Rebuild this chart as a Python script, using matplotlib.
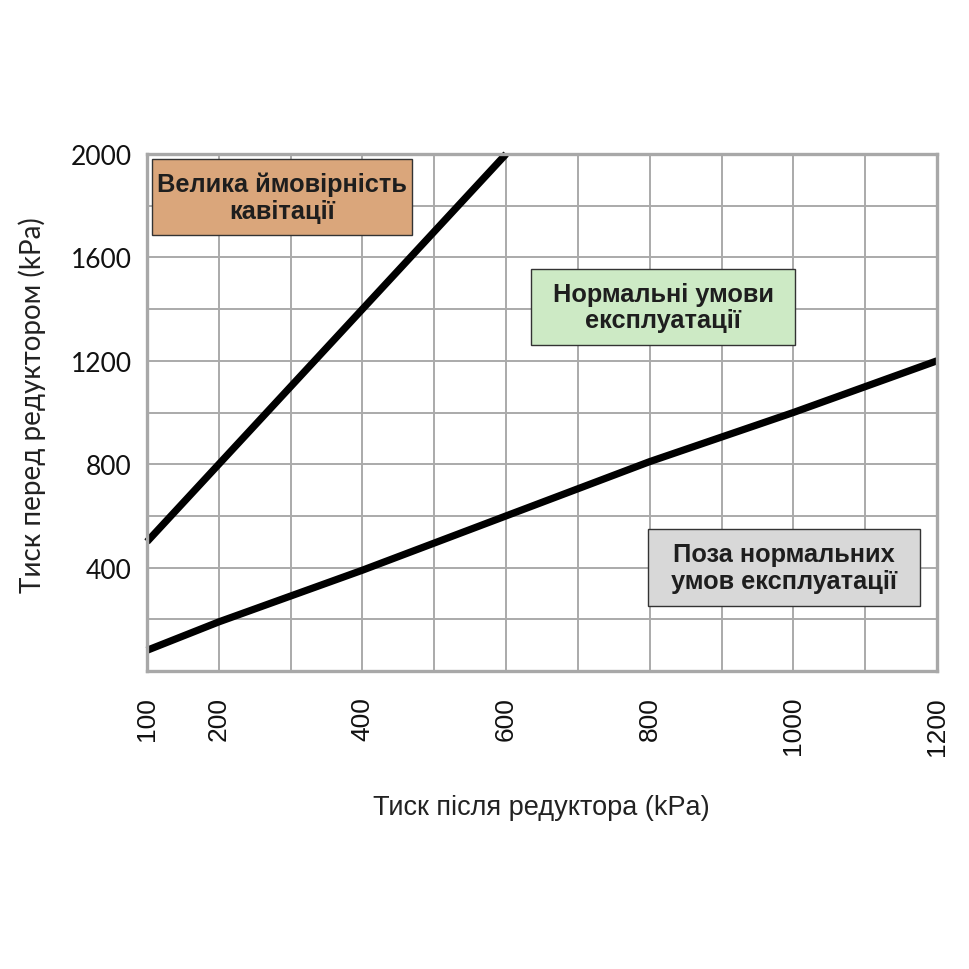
import numpy as np
import matplotlib
matplotlib.use('Agg')
import matplotlib.pyplot as plt
from matplotlib.patches import Rectangle

# upper boundary (cavitation) and lower boundary
x_upper = [100, 600]
y_upper = [500, 2000]
x_lower = [100, 200, 400, 800, 1000, 1200]
y_lower = [80, 190, 390, 810, 1000, 1200]

x_ticks = [100, 200, 400, 600, 800, 1000, 1200]
y_ticks = [400, 800, 1200, 1600, 2000]

zone_labels = ['Велика ймовірність\nкавітації',
               'Нормальні умови\nексплуатації',
               'Поза нормальних\nумов експлуатації']
zone_colors = ['#daa67b', '#cdeac5', '#d8d8d8']
# box corners (x0, y0, x1, y1) in data units
zone_boxes = [(107, 1687, 469, 1981),
              (635, 1261, 1002, 1555),
              (798, 251, 1176, 549)]

fig = plt.figure(figsize=(9.7, 9.7), dpi=100)
ax = fig.add_axes([147/970, 1 - 672/970, 790/970, 517/970])

ax.set_xlim(100, 1200)
ax.set_ylim(0, 2000)
ax.set_xticks(np.arange(100, 1201, 100), minor=True)
ax.set_yticks(np.arange(0, 2001, 200), minor=True)
ax.set_xticks(x_ticks)
ax.set_yticks(y_ticks)
ax.grid(which='both', color='#aaaaaa', lw=1.4)
ax.set_axisbelow(True)
for s in ax.spines.values():
    s.set_color('#a8a8a8')
    s.set_linewidth(2.4)

ax.tick_params(which='both', length=0)
ax.tick_params(axis='x', pad=18, labelrotation=90, labelsize=19, labelcolor='#111111')
ax.tick_params(axis='y', pad=11, labelsize=19, labelcolor='#111111')
for t in ax.get_xticklabels():
    t.set_family(['Liberation Sans', 'DejaVu Sans'])
for t in ax.get_yticklabels():
    t.set_family(['Lato', 'DejaVu Sans'])

ax.plot(x_upper, y_upper, color='black', lw=5.2, solid_capstyle='butt', clip_on=False)
ax.plot(x_lower, y_lower, color='black', lw=5.2, solid_capstyle='butt', clip_on=False)

for lab, col, (x0, y0, x1, y1) in zip(zone_labels, zone_colors, zone_boxes):
    ax.add_patch(Rectangle((x0, y0), x1 - x0, y1 - y0, facecolor=col,
                           edgecolor='#333333', lw=1.0, zorder=3))
    ax.text((x0 + x1) / 2, (y0 + y1) / 2, lab, ha='center', va='center',
            fontsize=18.3, fontweight='bold', color='#1e1e1e', linespacing=1.15,
            family=['Liberation Sans', 'DejaVu Sans'], zorder=4)

fig.text(32/970, 1 - 405/970, 'Тиск перед редуктором (kPa)', rotation=90,
         ha='center', va='center', fontsize=20, color='#222222',
         family=['Lato', 'DejaVu Sans'])
fig.text(541/970, 1 - 808/970, 'Тиск після редуктора (kPa)',
         ha='center', va='center', fontsize=19.5, color='#222222',
         family=['Liberation Sans', 'DejaVu Sans'])

fig.savefig('out.png', dpi=100, facecolor='white')
